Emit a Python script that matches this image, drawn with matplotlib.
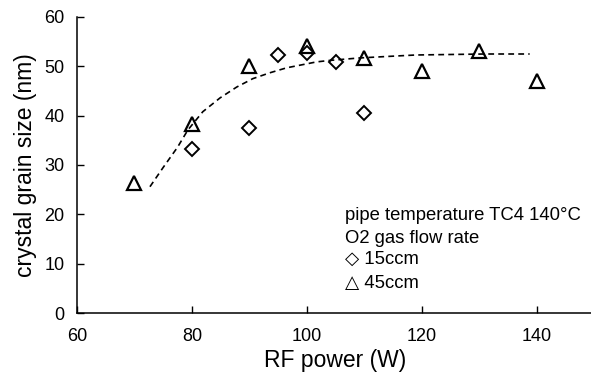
import matplotlib
matplotlib.use("Agg")
import matplotlib.pyplot as plt

plt.rcParams['font.family'] = ['Liberation Sans', 'DejaVu Sans']

# grain size vs RF power, two O2 flow rates
power_15 = [80, 90, 95, 100, 105, 110]
size_15 = [33.2, 37.6, 52.3, 52.7, 50.8, 40.5]

power_45 = [70, 80, 90, 100, 110, 120, 130, 140]
size_45 = [26.4, 38.3, 50.0, 54.2, 51.7, 49.0, 53.1, 47.0]

# trend curve read along the dashed guide
trend_x = [72.7, 75, 77.5, 79.3, 81.9, 84.9, 87.8, 90.6, 93.6, 96.5, 101.7,
           104, 109.2, 114, 119, 125, 131, 138.8]
trend_y = [25.6, 29.5, 33.6, 37.1, 40.8, 43.6, 45.8, 47.5, 48.7, 49.7, 50.9,
           51.2, 51.7, 52.0, 52.3, 52.4, 52.5, 52.5]

x_ticks = [60, 80, 100, 120, 140]
y_ticks = [0, 10, 20, 30, 40, 50, 60]

fig = plt.figure(figsize=(5.91, 3.85), dpi=100)
ax = fig.add_axes([77/591, 72/385, 517/591, 296/385])

ax.plot(trend_x, trend_y, color='black', lw=1.2, ls=(0, (3.5, 2.5)))
ax.plot(power_15, size_15, ls='none', marker='D', ms=7.5, mfc='none',
        mec='black', mew=1.4)
ax.plot(power_45, size_45, ls='none', marker='^', ms=10.5, mfc='none',
        mec='black', mew=1.6)

ax.set_xlim(60, 150)
ax.set_ylim(0, 60)
ax.set_xticks(x_ticks)
ax.set_yticks(y_ticks)
ax.tick_params(direction='in', length=5, width=1, labelsize=13, pad=11)
ax.tick_params(axis='y', pad=9)
for s in ['top', 'right']:
    ax.spines[s].set_visible(False)
for s in ['left', 'bottom']:
    ax.spines[s].set_linewidth(1.1)

ax.set_xlabel('RF power (W)', fontsize=16.5, labelpad=3)
ax.set_ylabel('crystal grain size (nm)', fontsize=16.5, labelpad=5)

legend_lines = ['pipe temperature TC4 140°C', 'O2 gas flow rate',
                '\u25c7 15ccm', '\u25b3 45ccm']
legend_y = [19.7, 15.2, 10.8, 5.9]
for txt, yy in zip(legend_lines, legend_y):
    ax.text(106.6, yy, txt, fontsize=13.3, va='center', ha='left')

fig.savefig('out.png', dpi=100)
